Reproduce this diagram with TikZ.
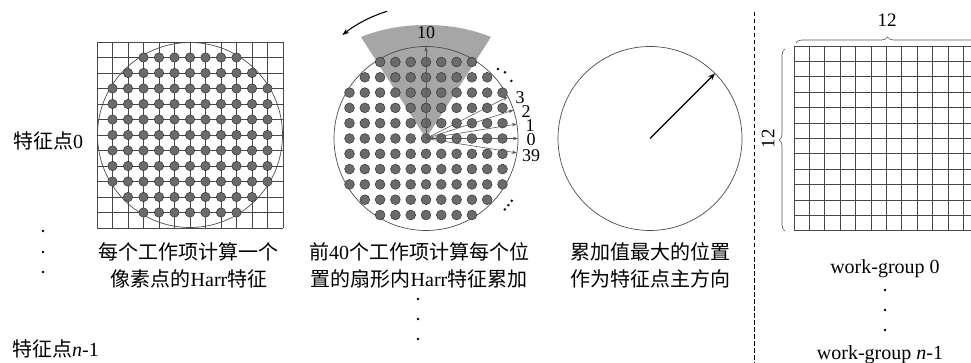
\documentclass[tikz,border=0pt]{standalone}
\usepackage{fontspec}
\setmainfont{Liberation Serif}
\newfontfamily\cjk{Noto Sans CJK SC}
\usetikzlibrary{decorations.pathreplacing,arrows.meta,calc}
\begin{document}
\begin{tikzpicture}[x=1pt,y=-1pt,
  lbl/.style={inner sep=0pt, font=\fontsize{20}{24}\selectfont},
  num/.style={inner sep=0pt, font=\fontsize{18}{20}\selectfont},
  gridline/.style={draw=black!72, line width=0.7pt},
  bigcircle/.style={draw=black!70, line width=0.7pt},
  pdot/.style={fill=black!58, draw=black!80, line width=0.5pt},
  ray/.style={draw=black!65, line width=0.6pt, -{Stealth[length=5pt,width=3.5pt]}},
  sdot/.style={fill=black},
  bracestyle/.style={draw=black!65, line width=0.6pt, decorate, decoration={brace, amplitude=6pt}},
]
\useasboundingbox (0,0) rectangle (971,363);
\clip (0,0) rectangle (971,363);

% ---------- panel 1 ----------
\coordinate (c1) at (190,135);
\foreach \k in {0,...,12} {
  \draw[gridline] (97+\k*15.5,42) -- (97+\k*15.5,228);
  \draw[gridline] (97,42+\k*15.5) -- (283,42+\k*15.5);
}
\draw[bigcircle] (c1) circle[radius=92.5];
\foreach \i in {-5,...,5} {
  \foreach \j in {-5,...,5} {
    \pgfmathtruncatemacro\dd{\i*\i+\j*\j}
    \ifnum\dd<35 \filldraw[pdot] (190+\i*15.5,135+\j*15.5) circle[radius=4.7]; \fi
  }
}
\node[lbl, anchor=base west] (fp0) at (13,149) {{\cjk 特征点}0};
\node[lbl, anchor=base west] (fpn) at (12,356) {{\cjk 特征点}\textit{n}-1};
\fill[sdot] (43,231) circle[radius=1.3];
\fill[sdot] (43,252) circle[radius=1.3];
\fill[sdot] (43,272) circle[radius=1.3];
\node[lbl, anchor=base] (t1a) at (188,259) {\cjk 每个工作项计算一个};
\node[lbl, anchor=base] (t1b) at (189,287) {{\cjk 像素点的}Harr{\cjk 特征}};

% ---------- panel 2 ----------
\coordinate (c2) at (426,138.5);
\fill[black!35] (c2) -- (361,37) .. controls (400,21) and (452,21) .. (491,37) -- cycle;
\draw[bigcircle] (c2) circle[radius=92];
\foreach \i in {-5,...,5} {
  \foreach \j in {-5,...,5} {
    \pgfmathtruncatemacro\dd{\i*\i+\j*\j}
    \ifnum\dd<35 \filldraw[pdot] (426+\i*15.3,138.5+\j*15.3) circle[radius=4.9]; \fi
  }
}
\draw[ray] (c2) -- ($(c2)+(-90:92)$);
\draw[ray] (c2) -- ($(c2)+(0:92)$);
\draw[ray] (c2) -- ($(c2)+(-9:92)$);
\draw[ray] (c2) -- ($(c2)+(-18:92)$);
\draw[ray] (c2) -- ($(c2)+(-27:92)$);
\draw[ray] (c2) -- ($(c2)+(9:92)$);
\node[num] (l10) at (426,33) {10};
\node[num] (l3) at (520,98) {3};
\node[num] (l2) at (526,112) {2};
\node[num] (l1) at (530,126) {1};
\node[num] (l0) at (531,140) {0};
\node[num] (l39) at (531,156) {39};
\fill[sdot] ($(c2)+(-44:100)$) circle[radius=1.4];
\fill[sdot] ($(c2)+(-40:103)$) circle[radius=1.4];
\fill[sdot] ($(c2)+(-34:103)$) circle[radius=1.4];
\fill[sdot] ($(c2)+(36:106)$) circle[radius=1.4];
\fill[sdot] ($(c2)+(39:106)$) circle[radius=1.4];
\fill[sdot] ($(c2)+(42:106)$) circle[radius=1.4];
\draw[black, line width=1.1pt, -{Stealth[length=7pt,width=5pt]}]
  ($(c2)+(-107:133)$) arc[start angle=-107, end angle=-129, radius=133];
\node[lbl, anchor=base] (t2a) at (419,259) {{\cjk 前}40{\cjk 个工作项计算每个位}};
\node[lbl, anchor=base] (t2b) at (419,287) {{\cjk 置的扇形内}Harr{\cjk 特征累加}};
\fill[sdot] (418,299) circle[radius=1.3];
\fill[sdot] (418,319) circle[radius=1.3];
\fill[sdot] (418,339) circle[radius=1.3];

% ---------- panel 3 ----------
\coordinate (c3) at (650,138.5);
\draw[bigcircle] (c3) circle[radius=92];
\draw[black, line width=1.4pt, -{Stealth[length=7pt,width=5.5pt]}] (c3) -- ($(c3)+(-45:92)$);
\node[lbl, anchor=base] (t3a) at (650,259) {\cjk 累加值最大的位置};
\node[lbl, anchor=base] (t3b) at (650,287) {\cjk 作为特征点主方向};

% ---------- separator ----------
\coordinate (sepTop) at (754,12);
\coordinate (sepBot) at (754,363);
\draw[black, line width=0.9pt, dash pattern=on 4.5pt off 2.5pt] (sepTop) -- (sepBot);

% ---------- right grid ----------
\foreach \k in {0,...,12} {
  \draw[gridline] (794+\k*15.4,46) -- (794+\k*15.4,231);
  \draw[gridline] (794,46+\k*15.4) -- (979,46+\k*15.4);
}
\coordinate (bt1) at (796,43);
\coordinate (bt2) at (979,43);
\draw[bracestyle] (bt1) -- (bt2);
\coordinate (bl1) at (785,231);
\coordinate (bl2) at (785,49);
\draw[bracestyle] (bl1) -- (bl2);
\node[inner sep=0pt, font=\fontsize{19}{20}\selectfont] (w12) at (887,20) {12};
\node[inner sep=0pt, font=\fontsize{19}{20}\selectfont, rotate=90] (h12) at (768,139) {12};
\node[lbl, anchor=base] (wg0) at (885,273) {work-group 0};
\node[lbl, anchor=base] (wgn) at (880,359) {work-group \textit{n}-1};
\fill[sdot] (885,290) circle[radius=1.3];
\fill[sdot] (885,310) circle[radius=1.3];
\fill[sdot] (885,330) circle[radius=1.3];
\end{tikzpicture}
\end{document}
